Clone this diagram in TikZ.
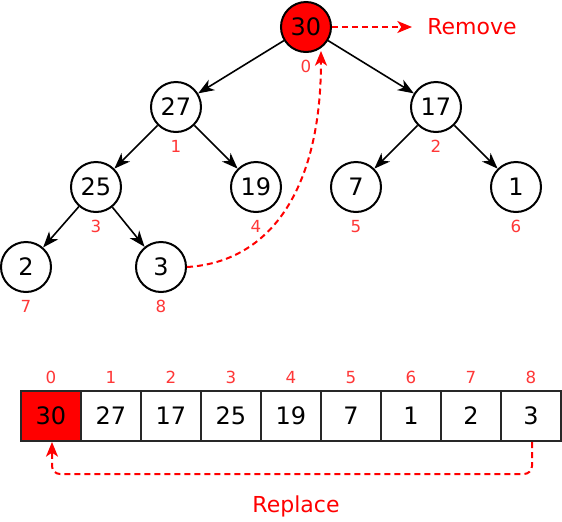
\documentclass[tikz,border=0pt]{standalone}
\usepackage{fontspec}
\setmainfont{DejaVu Sans}
\usetikzlibrary{arrows.meta}
\definecolor{lab}{RGB}{255,55,55}
\definecolor{cellborder}{RGB}{40,40,40}
\begin{document}
\begin{tikzpicture}[x=0.75pt,y=-0.75pt,
  tn/.style={circle,draw,line width=1.5pt,minimum size=37.5pt,inner sep=0pt,font=\fontsize{18}{20}\selectfont},
  idx/.style={text=lab,font=\fontsize{12.5}{14}\selectfont,inner sep=0pt,text height=9pt,text depth=0pt},
  cell/.style={rectangle,draw=cellborder,line width=1.5pt,minimum width=45pt,minimum height=37.5pt,inner sep=0pt,font=\fontsize{18}{20}\selectfont},
  edge/.style={line width=1.2pt,-{Stealth[length=12pt,width=9pt,inset=3.5pt]}},
  rdash/.style={red,line width=1.5pt,dash pattern=on 4.5pt off 3pt,-{Stealth[length=11pt,width=9pt,inset=3pt]}},
  lbl/.style={text=red,font=\fontsize{16.5}{19}\selectfont,inner sep=0pt}]
\useasboundingbox (0,0) rectangle (562,522);

% tree nodes
\node[tn,fill=red] (n30) at (306,27) {30};
\node[tn] (n27) at (176,107) {27};
\node[tn] (n17) at (436,107) {17};
\node[tn] (n25) at (96,187) {25};
\node[tn] (n19) at (256,187) {19};
\node[tn] (n7) at (356,187) {7};
\node[tn] (n1) at (516,187) {1};
\node[tn] (n2) at (26,267) {2};
\node[tn] (n3) at (161,267) {3};

% tree index labels
\node[idx] (i0) at (306,66) {0};
\node[idx] (i1) at (176,146) {1};
\node[idx] (i2) at (436,146) {2};
\node[idx] (i3) at (96,226) {3};
\node[idx] (i4) at (256,226) {4};
\node[idx] (i5) at (356,226) {5};
\node[idx] (i6) at (516,226) {6};
\node[idx] (i7) at (26,306) {7};
\node[idx] (i8) at (161,306) {8};

% edges
\draw[edge] (n30) -- (n27);
\draw[edge] (n30) -- (n17);
\draw[edge] (n27) -- (n25);
\draw[edge] (n27) -- (n19);
\draw[edge] (n17) -- (n7);
\draw[edge] (n17) -- (n1);
\draw[edge] (n25) -- (n2);
\draw[edge] (n25) -- (n3);

% remove
\node[lbl,anchor=west] (rem) at (427,27) {Remove};
\coordinate (remtip) at (412,27);
\draw[rdash] (n30.east) -- (remtip);

% move last to root
\coordinate (rootin) at (321,51);
\draw[rdash] (n3.east) .. controls (270,262) and (321,190) .. (rootin);

% array
\foreach \v/\i in {30/0,27/1,17/2,25/3,19/4,7/5,1/6,2/7,3/8}{
  \node[cell] (c\i) at ({51+60*\i},416) {\v};
  \node[idx] (a\i) at ({51+60*\i},377) {\i};
}
\node[cell,fill=red] at (c0) {30};

% replace
\coordinate (rr) at (532,474);
\coordinate (rl) at (52,474);
\draw[rdash,rounded corners=6pt] (c8.south -| rr) -- (rr) -- (rl) -- (c0.south -| rl);
\node[lbl] (rep) at (296,506) {Replace};
\end{tikzpicture}
\end{document}
